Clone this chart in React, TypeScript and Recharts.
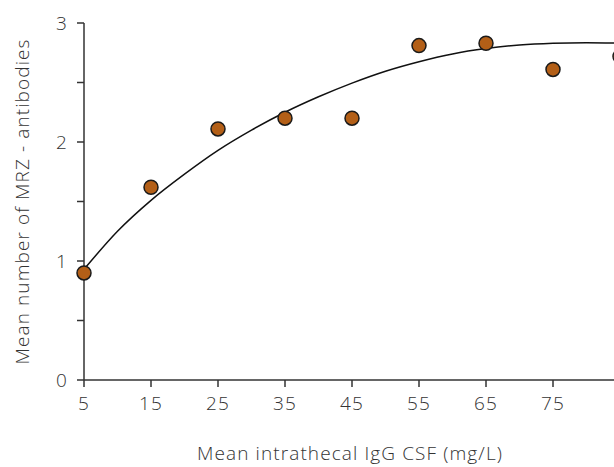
import React from "react";
import { ComposedChart, Line, Scatter, XAxis, YAxis } from "recharts";

// measured points (mean intrathecal IgG vs mean MRZ antibodies)
const igg = [5, 15, 25, 35, 45, 55, 65, 75, 85];
const mrz = [0.9, 1.62, 2.11, 2.2, 2.2, 2.81, 2.83, 2.61, 2.72];

// fitted curve
const fitX = [5, 10, 15, 20, 25, 30, 35, 40, 45, 50, 55, 60, 65, 70, 75, 80, 85];
const fitY = [0.93, 1.25, 1.51, 1.73, 1.93, 2.1, 2.25, 2.38, 2.495, 2.595, 2.675, 2.74, 2.785, 2.815, 2.83, 2.835, 2.83];

const xTicks = [5, 15, 25, 35, 45, 55, 65, 75];
const yTicks = [0, 0.5, 1, 1.5, 2, 2.5, 3];

const points = igg.map((x, i) => ({ x, y: mrz[i] }));
const curve = fitX.map((x, i) => ({ x, fit: fitY[i] }));

const font = "'Open Sans', Roboto, sans-serif";
const axisColor = "#333";
const textStyle = { fontSize: 19, fill: "#333", fontFamily: font, fontWeight: 300, letterSpacing: 1.1 };

const Dot = (props: any) => (
  <circle cx={props.cx} cy={props.cy} r={7} fill="#b35f17" stroke="#1a1a1a" strokeWidth={1.5} />
);

export default function App() {
  return (
    <div style={{ position: "absolute", left: 0, top: 0, width: 614, height: 467, overflow: "hidden", background: "#fff" }}>
      <ComposedChart width={622} height={467} margin={{ top: 23, right: 2, bottom: 0, left: 0 }}>
        <XAxis
          type="number"
          dataKey="x"
          domain={[5, 85]}
          ticks={xTicks}
          interval={0}
          height={87}
          stroke={axisColor}
          strokeWidth={1.5}
          tickSize={7}
          tickMargin={10}
          tick={textStyle}
          label={{
            content: (p: any) => (
              <text
                x={p.viewBox.x + p.viewBox.width / 2 - 2}
                y={p.viewBox.y + 80}
                textAnchor="middle"
                style={textStyle}
              >
                Mean intrathecal IgG CSF (mg/L)
              </text>
            ),
          }}
        />
        <YAxis
          type="number"
          domain={[0, 3]}
          ticks={yTicks}
          interval={0}
          width={84}
          stroke={axisColor}
          strokeWidth={1.5}
          tickSize={7}
          tickMargin={9}
          tick={textStyle}
          tickFormatter={(v: number) => (Number.isInteger(v) ? String(v) : "")}
          label={{
            content: (p: any) => {
              const cx = p.viewBox.x + 29;
              const cy = p.viewBox.y + p.viewBox.height / 2;
              return (
                <text
                  x={cx}
                  y={cy}
                  transform={`rotate(-90 ${cx} ${cy})`}
                  textAnchor="middle"
                  style={textStyle}
                >
                  Mean number of MRZ - antibodies
                </text>
              );
            },
          }}
        />
        <Line
          data={curve}
          dataKey="fit"
          type="monotone"
          stroke="#111"
          strokeWidth={1.5}
          dot={false}
          activeDot={false}
          isAnimationActive={false}
        />
        <Scatter data={points} dataKey="y" shape={Dot} isAnimationActive={false} />
      </ComposedChart>
    </div>
  );
}
